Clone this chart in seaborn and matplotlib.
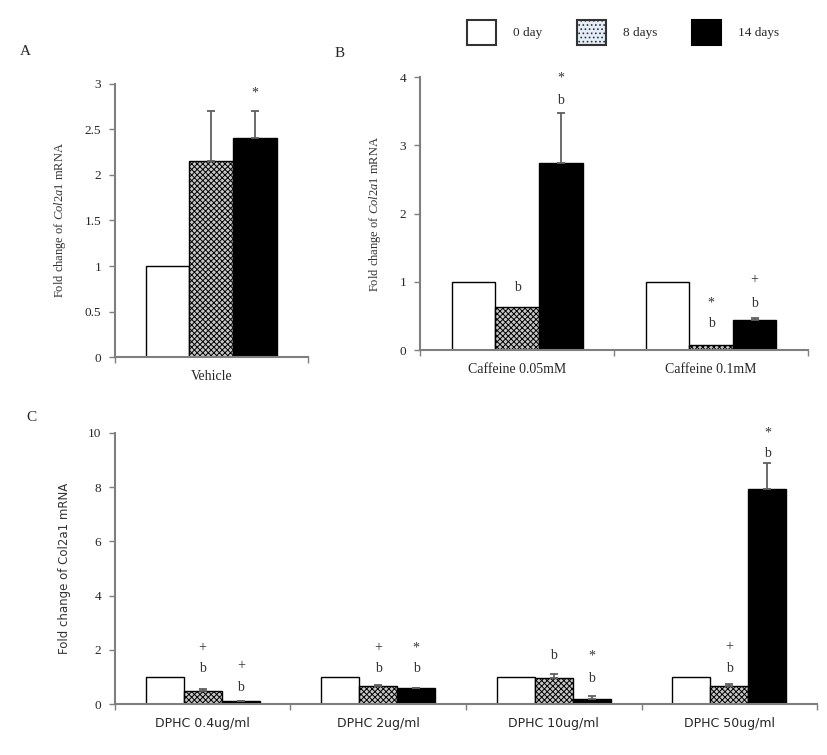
import numpy as np
import pandas as pd
import matplotlib
matplotlib.use("Agg")
import matplotlib.pyplot as plt
import matplotlib.patches as mpatches
import seaborn as sns

# ---------------- data ----------------
times = ["0 day", "8 days", "14 days"]

a_cats = ["Vehicle"]
a_vals = {"0 day": [1.0], "8 days": [2.15], "14 days": [2.40]}
a_errs = {"0 day": [0.0], "8 days": [0.55], "14 days": [0.30]}
# significance marks: (symbol, y position) per bar
a_marks = {"0 day": [[]], "8 days": [[]], "14 days": [[("*", 2.90)]]}

b_cats = ["Caffeine 0.05mM", "Caffeine 0.1mM"]
b_vals = {"0 day": [1.0, 1.0], "8 days": [0.63, 0.08], "14 days": [2.74, 0.44]}
b_errs = {"0 day": [0.0, 0.0], "8 days": [0.0, 0.0], "14 days": [0.73, 0.03]}
b_marks = {"0 day": [[], []],
           "8 days": [[("b", 0.92)], [("b", 0.39), ("*", 0.69)]],
           "14 days": [[("b", 3.66), ("*", 3.98)], [("b", 0.69), ("+", 1.03)]]}

c_cats = ["DPHC 0.4ug/ml", "DPHC 2ug/ml", "DPHC 10ug/ml", "DPHC 50ug/ml"]
c_vals = {"0 day": [1.0, 1.0, 1.0, 1.0],
          "8 days": [0.48, 0.67, 0.97, 0.67],
          "14 days": [0.10, 0.58, 0.20, 7.95]}
c_errs = {"0 day": [0.0, 0.0, 0.0, 0.0],
          "8 days": [0.08, 0.05, 0.15, 0.07],
          "14 days": [0.02, 0.03, 0.08, 0.95]}
c_marks = {"0 day": [[], [], [], []],
           "8 days": [[("b", 1.30), ("+", 2.07)], [("b", 1.30), ("+", 2.07)],
                      [("b", 1.78)], [("b", 1.30), ("+", 2.10)]],
           "14 days": [[("b", 0.60), ("+", 1.40)], [("b", 1.30), ("*", 2.07)],
                       [("b", 0.93), ("*", 1.78)], [("b", 9.25), ("*", 10.0)]]}

# ---------------- style ----------------
sns.set_theme(style="white")
plt.rcParams["font.family"] = ["Liberation Serif", "DejaVu Serif"]
plt.rcParams["mathtext.fontset"] = "custom"
plt.rcParams["mathtext.rm"] = "Liberation Serif"
plt.rcParams["mathtext.it"] = "Liberation Serif:italic"
plt.rcParams["mathtext.sf"] = "DejaVu Sans"
plt.rcParams["hatch.linewidth"] = 0.7
plt.rcParams["hatch.color"] = "#4d4d4d"

fills = {"0 day": "white", "8 days": "#c8c8c8", "14 days": "black"}
hatches = {"0 day": "", "8 days": "xxxxxx", "14 days": ""}
SPINE = "#7f7f7f"

fig = plt.figure(figsize=(8.27, 7.55), dpi=100)


def draw(ax, cats, vals, errs, marks, ymax, yticks, ylabels, width, fsz_cat,
         cat_family=None, mark_family=None):
    rows = []
    for t in times:
        for c, v in zip(cats, vals[t]):
            rows.append({"cat": c, "time": t, "val": v})
    df = pd.DataFrame(rows)
    sns.barplot(data=df, x="cat", y="val", hue="time", hue_order=times, order=cats,
                width=width, palette=fills, edgecolor="black", linewidth=1.0,
                errorbar=None, legend=False, ax=ax, saturation=1)
    for t, cont in zip(times, ax.containers):
        for i, p in enumerate(cont.patches):
            p.set_hatch(hatches[t])
            p.set_facecolor(fills[t])
            cx = p.get_x() + p.get_width() / 2
            top = p.get_height()
            e = errs[t][i]
            if e > 0:
                ax.errorbar([cx], [top], yerr=[[0], [e]], fmt="none",
                            ecolor="#606060", elinewidth=1.3, capsize=3,
                            capthick=1.3, zorder=1)
            for m, my in marks[t][i]:
                ax.text(cx, my, m, ha="center", va="center", fontsize=10,
                        color="#333333",
                        family=mark_family if mark_family else None)
    n = len(cats)
    ax.set_xlim(-0.5, n - 0.5)
    ax.set_ylim(0, ymax)
    ax.set_yticks(yticks)
    ax.set_yticklabels(ylabels, fontsize=9.5)
    ax.set_xticks(range(n))
    ax.set_xticklabels(cats, fontsize=fsz_cat,
                       family=cat_family if cat_family else None)
    ax.set_xticks(np.arange(-0.5, n, 1.0), minor=True)
    ax.tick_params(axis="x", which="major", length=0, pad=9)
    ax.tick_params(axis="x", which="minor", length=4, width=1, color=SPINE,
                   direction="out", bottom=True)
    ax.tick_params(axis="y", length=4, width=1, color=SPINE, direction="out",
                   left=True, pad=6)
    ax.set_xlabel("")
    for s in ["top", "right"]:
        ax.spines[s].set_visible(False)
    for s in ["left", "bottom"]:
        ax.spines[s].set_color(SPINE)
        ax.spines[s].set_linewidth(1.5)
    ax.set_ylabel(r"Fold change of $\mathit{Col2a1}$ mRNA", fontsize=9,
                  color="#333333", labelpad=12)


axA = fig.add_axes([0.139, 0.527, 0.233, 0.362])
draw(axA, a_cats, a_vals, a_errs, a_marks, 3, [0, 0.5, 1, 1.5, 2, 2.5, 3],
     ["0", "0.5", "1", "1.5", "2", "2.5", "3"], 0.68, 10)

axB = fig.add_axes([0.508, 0.536, 0.469, 0.362])
draw(axB, b_cats, b_vals, b_errs, b_marks, 4, [0, 1, 2, 3, 4],
     ["0", "1", "2", "3", "4"], 0.675, 10)

axC = fig.add_axes([0.139, 0.0675, 0.849, 0.359])
draw(axC, c_cats, c_vals, c_errs, c_marks, 10, [0, 2, 4, 6, 8, 10],
     ["0", "2", "4", "6", "8", "10"], 0.65, 9, cat_family="DejaVu Sans")
axC.set_ylabel("Fold change of Col2a1 mRNA", fontsize=8.5,
               family="DejaVu Sans", color="#333333", labelpad=12)

fig.text(0.024, 0.927, "A", fontsize=11)
fig.text(0.404, 0.924, "B", fontsize=11)
fig.text(0.032, 0.443, "C", fontsize=11)

handles = [
    mpatches.Patch(facecolor="white", edgecolor="#333333", linewidth=1.5, label=times[0]),
    mpatches.Patch(facecolor="#e3ecf7", edgecolor="#333333", hatch="....",
                   linewidth=1.5, label=times[1]),
    mpatches.Patch(facecolor="black", edgecolor="black", linewidth=1.5, label=times[2]),
]
fig.legend(handles=handles, loc="upper left", bbox_to_anchor=(467 / 827, 1 - 20 / 755),
           ncol=3, frameon=False, fontsize=9.5, handlelength=2.2, handleheight=2.5,
           handletextpad=1.3, columnspacing=2.6, borderpad=0, borderaxespad=0)

fig.savefig("out.png", dpi=100)
